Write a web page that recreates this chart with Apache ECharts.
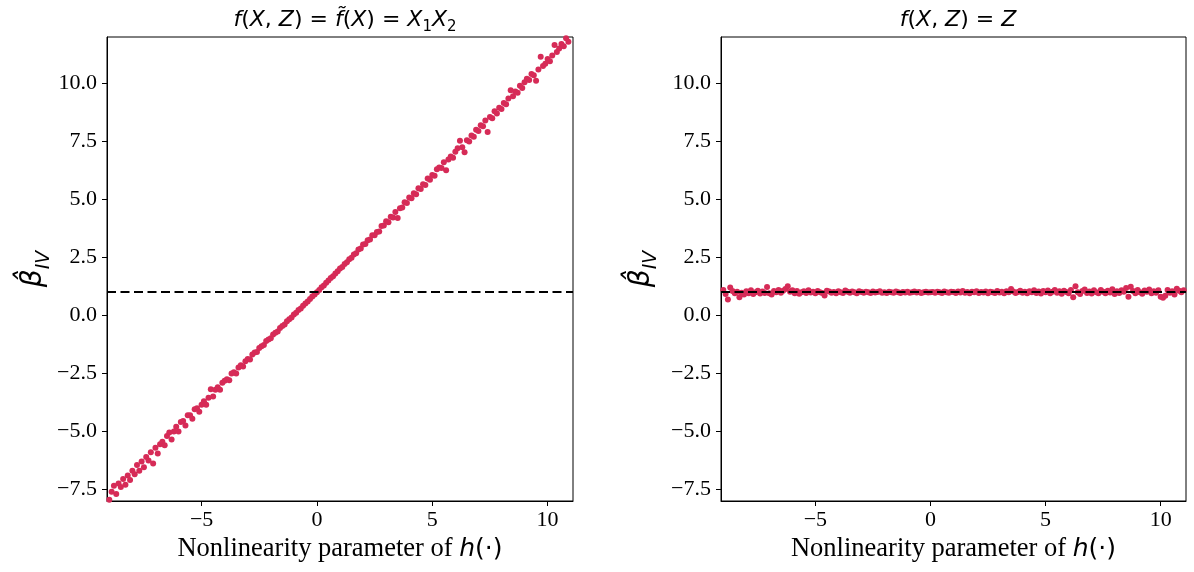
<!DOCTYPE html>
<html>
<head>
<meta charset="utf-8">
<script src="https://cdn.jsdelivr.net/npm/echarts@6/dist/echarts.min.js"></script>
<style>
html,body{margin:0;padding:0;background:#fff;}
#chart{width:1194px;height:572px;}
</style>
</head>
<body>
<div id="chart"></div>
<script>
// Nonlinearity parameter values (x)
const nonlinParam = [
-9.0,-8.9,-8.8,-8.7,-8.6,-8.5,-8.4,-8.3,-8.2,-8.1,
-8.0,-7.9,-7.8,-7.7,-7.6,-7.5,-7.4,-7.3,-7.2,-7.1,
-7.0,-6.9,-6.8,-6.7,-6.6,-6.5,-6.4,-6.3,-6.2,-6.1,
-6.0,-5.9,-5.8,-5.7,-5.6,-5.5,-5.4,-5.3,-5.2,-5.1,
-5.0,-4.9,-4.8,-4.7,-4.6,-4.5,-4.4,-4.3,-4.2,-4.1,
-4.0,-3.9,-3.8,-3.7,-3.6,-3.5,-3.4,-3.3,-3.2,-3.1,
-3.0,-2.9,-2.8,-2.7,-2.6,-2.5,-2.4,-2.3,-2.2,-2.1,
-2.0,-1.9,-1.8,-1.7,-1.6,-1.5,-1.4,-1.3,-1.2,-1.1,
-1.0,-0.9,-0.8,-0.7,-0.6,-0.5,-0.4,-0.3,-0.2,-0.1,
0.0,0.1,0.2,0.3,0.4,0.5,0.6,0.7,0.8,0.9,
1.0,1.1,1.2,1.3,1.4,1.5,1.6,1.7,1.8,1.9,
2.0,2.1,2.2,2.3,2.4,2.5,2.6,2.7,2.8,2.9,
3.0,3.1,3.2,3.3,3.4,3.5,3.6,3.7,3.8,3.9,
4.0,4.1,4.2,4.3,4.4,4.5,4.6,4.7,4.8,4.9,
5.0,5.1,5.2,5.3,5.4,5.5,5.6,5.7,5.8,5.9,
6.0,6.1,6.2,6.3,6.4,6.5,6.6,6.7,6.8,6.9,
7.0,7.1,7.2,7.3,7.4,7.5,7.6,7.7,7.8,7.9,
8.0,8.1,8.2,8.3,8.4,8.5,8.6,8.7,8.8,8.9,
9.0,9.1,9.2,9.3,9.4,9.5,9.6,9.7,9.8,9.9,
10.0,10.1,10.2,10.3,10.4,10.5,10.6,10.7,10.8,10.9,
11.0
];
// beta_IV estimates, left panel f(X,Z)=X1X2
const betaLeft = [
-7.95,-7.60,-7.34,-7.70,-7.25,-7.40,-7.05,-7.30,-6.90,-7.10,
-6.70,-6.85,-6.45,-6.70,-6.30,-6.55,-6.10,-6.25,-5.90,-6.38,
-5.70,-5.95,-5.55,-5.45,-5.60,-5.20,-5.05,-5.35,-5.00,-4.80,
-5.00,-4.60,-4.55,-4.75,-4.30,-4.30,-4.45,-4.05,-4.00,-4.15,
-3.85,-3.70,-3.85,-3.55,-3.18,-3.50,-3.20,-3.10,-3.20,-2.90,
-2.82,-2.75,-2.80,-2.50,-2.45,-2.50,-2.25,-2.15,-2.20,-1.98,
-1.88,-1.90,-1.68,-1.60,-1.58,-1.40,-1.33,-1.28,-1.10,-1.04,
-0.98,-0.82,-0.75,-0.69,-0.54,-0.46,-0.39,-0.25,-0.17,-0.09,
0.04,0.11,0.23,0.30,0.42,0.51,0.60,0.71,0.81,0.90,
1.00,1.10,1.21,1.29,1.41,1.50,1.61,1.69,1.81,1.90,
2.02,2.09,2.22,2.29,2.42,2.48,2.63,2.68,2.84,2.88,
3.06,3.08,3.24,3.27,3.45,3.46,3.60,3.62,3.85,3.88,
4.06,4.02,4.25,4.22,4.46,4.20,4.62,4.65,4.88,4.85,
5.08,5.05,5.26,5.22,5.48,5.45,5.65,5.62,5.90,5.85,
6.05,6.02,6.30,6.38,6.35,6.60,6.26,6.72,6.85,6.80,
7.05,7.20,7.53,7.25,7.03,7.55,7.50,7.75,7.70,8.00,
7.95,8.20,8.15,8.40,7.91,8.55,8.50,8.80,8.70,8.95,
8.90,9.15,9.10,9.35,9.71,9.45,9.65,9.60,9.90,9.80,
10.05,10.20,10.15,10.40,10.35,10.11,10.60,11.15,10.75,10.85,
11.05,10.95,11.20,11.66,11.35,11.50,11.70,11.60,11.95,11.80,
12.05
];
// beta_IV estimates, right panel f(X,Z)=Z
const betaRight = [
1.10,0.92,0.68,1.20,1.05,0.95,1.02,0.78,0.98,0.90,
1.04,0.95,1.08,0.92,1.00,1.06,0.94,1.03,0.97,1.22,
0.96,0.90,1.05,1.00,1.10,0.98,1.06,1.14,1.26,1.02,
1.08,0.96,1.05,0.93,1.00,1.04,0.97,1.08,0.99,1.02,
0.95,1.05,1.00,0.97,0.86,1.06,1.03,0.98,1.01,0.96,
1.04,1.00,0.97,1.07,1.02,0.98,1.03,1.00,0.96,1.04,
1.01,0.98,1.02,1.00,0.97,1.03,0.99,1.01,1.04,0.98,
1.00,0.97,1.02,1.00,0.98,1.03,1.00,0.97,1.01,0.99,
1.02,0.98,1.00,1.03,0.99,1.01,0.97,1.00,1.02,0.99,
1.00,1.01,0.98,1.02,1.00,0.97,1.03,1.00,0.98,1.02,
1.01,0.97,1.03,0.99,1.05,0.98,1.01,0.96,1.02,1.00,
1.04,0.97,1.01,0.99,1.03,0.96,1.02,1.00,0.97,1.05,
0.99,1.02,0.96,1.04,1.00,1.14,1.03,0.97,1.01,1.06,
0.98,1.02,0.95,1.04,1.00,1.08,0.97,1.03,0.94,1.05,
1.00,1.07,0.96,1.02,1.09,0.98,1.04,0.93,1.06,1.01,
0.96,1.10,0.78,1.26,1.00,0.92,1.05,1.12,0.97,1.03,
0.94,1.08,1.00,0.95,1.10,1.02,0.96,1.06,0.99,1.13,
0.92,1.04,0.97,1.08,1.02,1.18,0.80,1.24,1.05,0.96,
1.10,1.00,0.93,1.07,1.02,1.12,0.95,1.04,0.98,1.08,
0.80,0.76,0.85,1.10,0.98,1.04,0.90,1.15,1.06,1.00,
1.08
];
const refValue = 1.0;
const yTicks = [-7.5, -5.0, -2.5, 0.0, 2.5, 5.0, 7.5, 10.0];
const xTicks = [-5, 0, 5, 10];
const titleLeft = '{i|f}{n|(}{i|X}{n|, }{i|Z}{n|) = }{i|f\u0303}{n|(}{i|X}{n|) = }{i|X}{s|1}{i|X}{s|2}';
const titleRight = '{i|f}{n|(}{i|X}{n|, }{i|Z}{n|) = }{i|Z}';
const xName = '{a|Nonlinearity parameter of }{h|h}{p|(\u00b7)}';
const yName = '{b|\u03b2\u0302}{s|IV}';

const minus = s => String(s).replace('-', '\u2212');
const serif = 'Liberation Serif';
const dotColor = '#d62b57';

const titleRich = {
  i: {fontFamily: 'DejaVu Sans', fontStyle: 'italic', fontWeight: 'normal', fontSize: 22, color: '#000', lineHeight: 30},
  n: {fontFamily: 'DejaVu Sans', fontWeight: 'normal', fontSize: 22, color: '#000', lineHeight: 30},
  s: {fontFamily: 'DejaVu Sans', fontWeight: 'normal', fontSize: 15, color: '#000', verticalAlign: 'bottom', lineHeight: 25}
};

function makeX(gi) {
  return {
    type: 'value', gridIndex: gi, min: -9.1, max: 11.1,
    name: xName, nameLocation: 'middle', nameGap: 34,
    nameTextStyle: {
      rich: {
        a: {fontFamily: serif, fontSize: 26.5, color: '#000'},
        h: {fontFamily: 'DejaVu Sans', fontStyle: 'italic', fontSize: 25, color: '#000'},
        p: {fontFamily: 'DejaVu Sans', fontSize: 25, color: '#000'}
      }
    },
    splitLine: {show: false},
    axisLine: {show: true, onZero: false, lineStyle: {color: '#000', width: 1}},
    axisTick: {show: true, length: 5, customValues: xTicks, lineStyle: {color: '#000'}},
    axisLabel: {customValues: xTicks, formatter: v => minus(v), fontFamily: serif, fontSize: 22, color: '#000', margin: 8}
  };
}
function makeY(gi, gap) {
  return {
    type: 'value', gridIndex: gi, min: -8, max: 12,
    name: yName, nameLocation: 'middle', nameGap: gap, nameRotate: 90,
    nameTextStyle: {
      rich: {
        b: {fontFamily: 'DejaVu Sans', fontStyle: 'italic', fontSize: 28, color: '#000', lineHeight: 38},
        s: {fontFamily: 'DejaVu Sans', fontStyle: 'italic', fontSize: 19, color: '#000', verticalAlign: 'bottom', lineHeight: 31}
      }
    },
    splitLine: {show: false},
    axisLine: {show: true, onZero: false, lineStyle: {color: '#000', width: 1}},
    axisTick: {show: true, length: 5, customValues: yTicks, lineStyle: {color: '#000'}},
    axisLabel: {customValues: yTicks, formatter: v => minus(Number(v).toFixed(1)), fontFamily: serif, fontSize: 22, color: '#000', margin: 10}
  };
}
function makeSeries(gi, ys) {
  return {
    type: 'scatter', xAxisIndex: gi, yAxisIndex: gi, clip: true,
    symbol: 'circle', symbolSize: 6,
    itemStyle: {color: dotColor, opacity: 1},
    data: nonlinParam.map((x, i) => [x, ys[i]]),
    markLine: {
      silent: true, symbol: 'none', z: 10,
      label: {show: false},
      lineStyle: {color: '#000', type: [9, 4.5], width: 2.2},
      data: [{yAxis: refValue}]
    },
    z: 3
  };
}

const chart = echarts.init(document.getElementById('chart'), null, {renderer: 'canvas'});
chart.setOption({
  animation: false,
  backgroundColor: '#fff',
  title: [
    {text: titleLeft, left: 340, textAlign: 'center', top: 0, textStyle: {rich: titleRich}},
    {text: titleRight, left: 953, textAlign: 'center', top: 0, textStyle: {rich: titleRich}}
  ],
  grid: [
    {left: 107, top: 37, width: 466, height: 464, show: true, borderColor: '#000', borderWidth: 1, backgroundColor: 'transparent'},
    {left: 721, top: 37, width: 465, height: 464, show: true, borderColor: '#000', borderWidth: 1, backgroundColor: 'transparent'}
  ],
  xAxis: [makeX(0), makeX(1)],
  yAxis: [makeY(0, 51), makeY(1, 60)],
  series: [makeSeries(0, betaLeft), makeSeries(1, betaRight)]
});
</script>
</body>
</html>
